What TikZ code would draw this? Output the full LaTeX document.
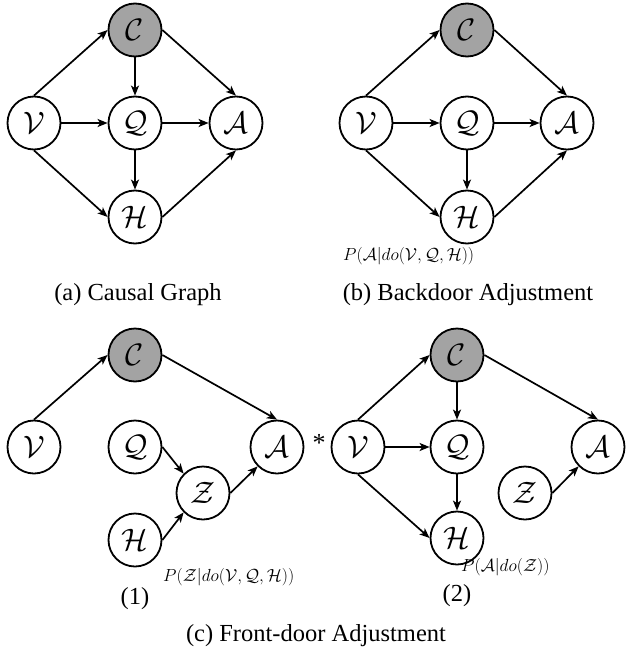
\RequirePackage{fix-cm}
\documentclass[tikz,border=0pt]{standalone}
\usepackage{fontspec}
\setmainfont{Liberation Serif}
\usetikzlibrary{arrows.meta}
\definecolor{confgray}{RGB}{163,163,163}
\begin{document}
\begin{tikzpicture}[x=1pt,y=-1pt,
  var/.style={circle,draw,line width=1.8pt,minimum size=53pt,inner sep=0pt,font=\fontsize{31}{31}\selectfont},
  conf/.style={var,fill=confgray},
  arr/.style={-{Stealth[length=10pt,width=8pt,inset=2.5pt]},line width=1.7pt},
  capt/.style={font=\fontsize{24.5}{26}\selectfont},
  prob/.style={font=\fontsize{17.5}{18}\selectfont,anchor=west,inner sep=0pt}]
\useasboundingbox (0,0) rectangle (626,653);
% ---------- (a) ----------
\node[conf] (aC) at (135,30) {$\mathcal{C}$};
\node[var] (aV) at (34,123) {$\mathcal{V}$};
\node[var] (aQ) at (135,123) {$\mathcal{Q}$};
\node[var] (aA) at (236,123) {$\mathcal{A}$};
\node[var] (aH) at (135,217) {$\mathcal{H}$};
\draw[arr] (aV.north) -- (aC.west);
\draw[arr] (aC.east) -- (aA.north);
\draw[arr] (aC.south) -- (aQ.north);
\draw[arr] (aV.east) -- (aQ.west);
\draw[arr] (aQ.east) -- (aA.west);
\draw[arr] (aQ.south) -- (aH.north);
\draw[arr] (aV.south) -- (aH.west);
\draw[arr] (aH.east) -- (aA.south);
\node[capt] (capa) at (138,295) {(a) Causal Graph};
% ---------- (b) ----------
\node[conf] (bC) at (467,30) {$\mathcal{C}$};
\node[var] (bV) at (366,123) {$\mathcal{V}$};
\node[var] (bQ) at (467,123) {$\mathcal{Q}$};
\node[var] (bA) at (567,123) {$\mathcal{A}$};
\node[var] (bH) at (467,217) {$\mathcal{H}$};
\draw[arr] (bV.north) -- (bC.west);
\draw[arr] (bC.east) -- (bA.north);
\draw[arr] (bV.east) -- (bQ.west);
\draw[arr] (bQ.east) -- (bA.west);
\draw[arr] (bQ.south) -- (bH.north);
\draw[arr] (bV.south) -- (bH.west);
\draw[arr] (bH.east) -- (bA.south);
\node[prob] (pb) at (343,256) {$P(\mathcal{A}|do(\mathcal{V},\mathcal{Q},\mathcal{H}))$};
\node[capt] (capb) at (468,295) {(b) Backdoor Adjustment};
% ---------- (c1) ----------
\node[conf] (cC) at (135,355) {$\mathcal{C}$};
\node[var] (cV) at (34,447) {$\mathcal{V}$};
\node[var] (cQ) at (135,447) {$\mathcal{Q}$};
\node[var] (cA) at (277,447) {$\mathcal{A}$};
\node[var] (cZ) at (203,493) {$\mathcal{Z}$};
\node[var] (cH) at (135,540) {$\mathcal{H}$};
\draw[arr] (cV.north) -- (cC.west);
\draw[arr] (cC.east) -- (cA.north);
\draw[arr] (cQ.east) -- (cZ.north west);
\draw[arr] (cH.east) -- (cZ.south west);
\draw[arr] (cZ.east) -- (cA.south west);
\node[prob] (pc) at (163,577) {$P(\mathcal{Z}|do(\mathcal{V},\mathcal{Q},\mathcal{H}))$};
\node[capt] (one) at (135,599) {(1)};
% ---------- star ----------
\node[font=\fontsize{26}{26}\selectfont] (star) at (319,443) {*};
% ---------- (c2) ----------
\node[conf] (dC) at (457,355) {$\mathcal{C}$};
\node[var] (dV) at (358,447) {$\mathcal{V}$};
\node[var] (dQ) at (457,447) {$\mathcal{Q}$};
\node[var] (dA) at (598,447) {$\mathcal{A}$};
\node[var] (dZ) at (525,493) {$\mathcal{Z}$};
\node[var] (dH) at (457,538) {$\mathcal{H}$};
\draw[arr] (dV.north) -- (dC.west);
\draw[arr] (dC.east) -- (dA.north);
\draw[arr] (dC.south) -- (dQ.north);
\draw[arr] (dV.east) -- (dQ.west);
\draw[arr] (dQ.south) -- (dH.north);
\draw[arr] (dV.south) -- (dH.west);
\draw[arr] (dZ.east) -- (dA.south west);
\node[prob] (pd) at (461,567) {$P(\mathcal{A}|do(\mathcal{Z}))$};
\node[capt] (two) at (457,596) {(2)};
% ---------- caption ----------
\node[capt] (capc) at (316,636) {(c) Front-door Adjustment};
\end{tikzpicture}
\end{document}
